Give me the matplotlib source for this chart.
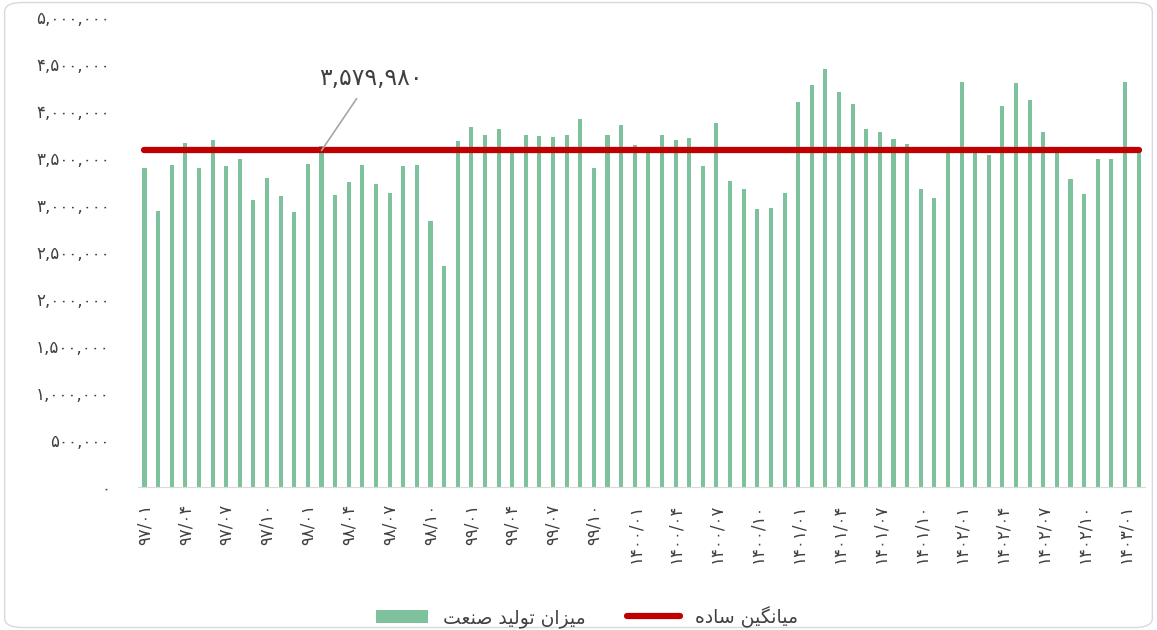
import matplotlib.pyplot as plt
from matplotlib.patches import Patch, FancyBboxPatch
from matplotlib.lines import Line2D
import numpy as np

# monthly industrial production, 97/01 .. 1403/02
production = [
    3390000, 2940000, 3430000, 3660000, 3390000, 3690000, 3410000, 3490000, 3050000, 3290000,
    3100000, 2930000, 3440000, 3630000, 3110000, 3240000, 3430000, 3220000, 3130000, 3420000,
    3430000, 2830000, 2350000, 3680000, 3830000, 3740000, 3810000, 3560000, 3750000, 3730000,
    3720000, 3750000, 3910000, 3390000, 3740000, 3850000, 3640000, 3560000, 3750000, 3690000,
    3710000, 3410000, 3870000, 3260000, 3170000, 2960000, 2970000, 3130000, 4100000, 4280000,
    4450000, 4200000, 4070000, 3810000, 3780000, 3700000, 3650000, 3170000, 3070000, 3560000,
    4310000, 3560000, 3530000, 4050000, 4300000, 4120000, 3780000, 3560000, 3280000, 3120000,
    3490000, 3490000, 4310000, 3560000,
]
average = 3579980

tick_labels = [
    "97/01", "97/04", "97/07", "97/10",
    "98/01", "98/04", "98/07", "98/10",
    "99/01", "99/04", "99/07", "99/10",
    "1400/01", "1400/04", "1400/07", "1400/10",
    "1401/01", "1401/04", "1401/07", "1401/10",
    "1402/01", "1402/04", "1402/07", "1402/10",
    "1403/01",
]
y_ticks = [0, 500000, 1000000, 1500000, 2000000, 2500000, 3000000, 3500000, 4000000, 4500000, 5000000]

# legend labels, already shaped (presentation forms, visual order)
label_bars = "\uFE96\uFECC\uFEE8\uFEBB \uFEAA\uFEF4\uFEDF\uFEEE\uFE97 \uFEE5\uFE8D\uFEB0\uFEF4\uFEE3"
label_avg = "\uFEE9\uFEA9\uFE8E\uFEB3 \uFEE6\uFEF4\uFB95\uFEE7\uFE8E\uFEF4\uFEE3"

FA_DIGITS = str.maketrans("0123456789", "\u06F0\u06F1\u06F2\u06F3\u06F4\u06F5\u06F6\u06F7\u06F8\u06F9")


def fa(s):
    return str(s).translate(FA_DIGITS)


bar_color = "#7DC29D"
line_color = "#C00000"
text_color = "#404040"

fig = plt.figure(figsize=(11.57, 6.30), dpi=100)
ax = fig.add_axes([0.119, 0.227, 0.871, 0.746])

x = np.arange(len(production))
ax.bar(x, production, width=0.3, color=bar_color, zorder=2)
ax.plot(x, [average] * len(x), color=line_color, lw=4.5, solid_capstyle="round", zorder=3)

ax.set_xlim(-0.5, len(x) - 0.5)
ax.set_ylim(0, 5000000)
ax.set_yticks(y_ticks)
ax.set_yticklabels([fa(f"{v:,}") for v in y_ticks])
ax.set_xticks(range(0, 3 * len(tick_labels), 3))
ax.set_xticklabels([fa(t) for t in tick_labels], rotation=90)
ax.tick_params(length=0, labelsize=12, labelcolor=text_color)
ax.tick_params(axis="x", pad=12)
ax.tick_params(axis="y", pad=20)
for side in ["top", "right", "left"]:
    ax.spines[side].set_visible(False)
ax.spines["bottom"].set_color("#D9D9D9")

ax.annotate(fa(f"{average:,}"), xy=(13, average), xytext=(16.6, 4350000),
            ha="center", va="center", fontsize=17, color=text_color,
            arrowprops=dict(arrowstyle="-", color="#A6A6A6", lw=1.2, shrinkA=5, shrinkB=0))

handles = [Patch(facecolor=bar_color),
           Line2D([], [], color=line_color, lw=4.5, solid_capstyle="round")]
fig.legend(handles, [label_bars, label_avg], loc="center", bbox_to_anchor=(0.507, 0.021),
           ncol=2, frameon=False, fontsize=13.5, handlelength=2.8, columnspacing=2.2,
           labelcolor=text_color)

fig.patches.append(FancyBboxPatch((0.004, 0.004), 0.992, 0.992,
                                  boxstyle="round,pad=0,rounding_size=0.015",
                                  transform=fig.transFigure, fill=False,
                                  ec="#D9D9D9", lw=1))

plt.savefig("out.png", dpi=100)
